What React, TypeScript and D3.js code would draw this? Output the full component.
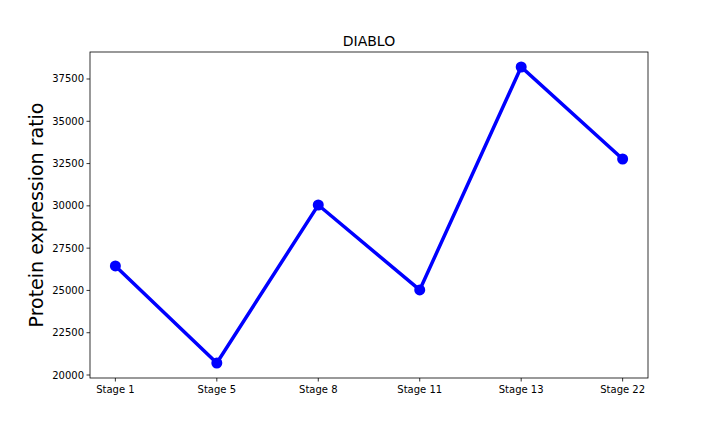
import React from 'react';
import * as d3 from 'd3';

const stages = ['Stage 1', 'Stage 5', 'Stage 8', 'Stage 11', 'Stage 13', 'Stage 22'];
const values = [26450, 20710, 30050, 25030, 38210, 32770];
const yTicks = [20000, 22500, 25000, 27500, 30000, 32500, 35000, 37500];

const width = 720;
const height = 432;
const margin = { top: 52, right: 72, bottom: 54, left: 90 };

const App: React.FC = () => {
  const x = d3.scalePoint<string>()
    .domain(stages)
    .range([margin.left, width - margin.right])
    .padding(0.25);
  const y = d3.scaleLinear()
    .domain([19823, 39096])
    .range([height - margin.bottom, margin.top]);

  const line = d3.line<number>()
    .x((_, i) => x(stages[i]) as number)
    .y(d => y(d));

  const bottom = height - margin.bottom;

  return (
    <svg width={width} height={height} style={{ position: 'absolute', left: 0, top: 0 }}
      fontFamily="DejaVu Sans, sans-serif">
      <rect x={margin.left} y={margin.top} width={width - margin.left - margin.right}
        height={bottom - margin.top} fill="white" stroke="black" strokeWidth={0.8} />
      {stages.map(s => (
        <g key={s} transform={`translate(${x(s)},${bottom})`}>
          <line y2={3.5} stroke="black" strokeWidth={0.8} />
          <text y={15} textAnchor="middle" fontSize={10}>{s}</text>
        </g>
      ))}
      {yTicks.map(t => (
        <g key={t} transform={`translate(${margin.left},${y(t)})`}>
          <line x2={-3.5} stroke="black" strokeWidth={0.8} />
          <text x={-6} dy="0.35em" textAnchor="end" fontSize={10}>{t}</text>
        </g>
      ))}
      <text transform={`translate(43,${(margin.top + bottom) / 2}) rotate(-90)`}
        textAnchor="middle" fontSize={19}>Protein expression ratio</text>
      <text x={(margin.left + width - margin.right) / 2} y={46} textAnchor="middle" fontSize={14}>DIABLO</text>
      <path d={line(values) ?? ''} fill="none" stroke="#0000ff" strokeWidth={3.5} />
      {values.map((v, i) => (
        <circle key={i} cx={x(stages[i])} cy={y(v)} r={5.5} fill="#0000ff" />
      ))}
    </svg>
  );
};

export default App;
